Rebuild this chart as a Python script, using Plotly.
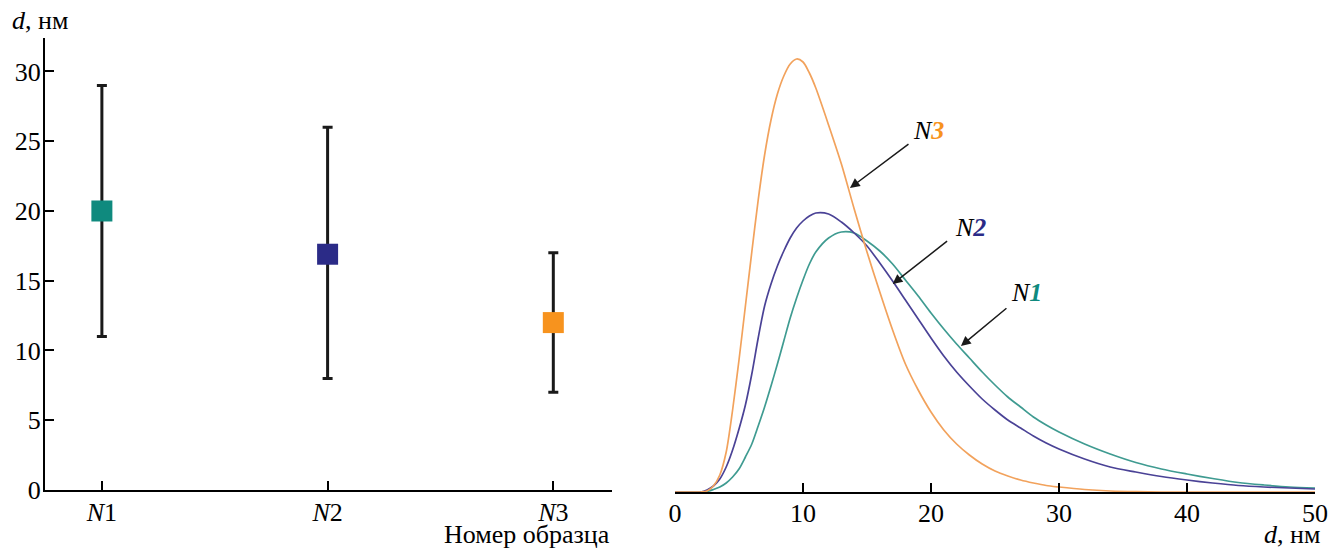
import plotly.graph_objects as go

# left panel: mean particle size per sample with spread
samples = [1, 2, 3]
sample_labels = ["<i>N</i>1", "<i>N</i>2", "<i>N</i>3"]
d_mean = [20.0, 16.9, 12.0]
d_upper = [29.0, 26.0, 17.0]
d_lower = [11.0, 8.0, 7.0]
sample_colors = ["#0f8a7e", "#2b2b87", "#f7931e"]

# right panel: size distributions (arb. units)
d_grid = [0, 2, 2.5, 3, 3.5, 4, 4.5, 5, 5.5, 6, 6.5, 7, 7.5, 8, 8.5, 9, 9.5, 10, 10.5, 11,
          12, 13, 14, 15, 16, 17, 18, 19, 20, 21, 22, 23, 24, 25, 26, 27, 28, 29, 30,
          32, 34, 36, 38, 40, 42, 44, 46, 48, 50]
dist_n1 = [0, 0, 0.5, 2.5, 5, 9, 15, 23, 35, 48, 66, 85, 106, 128, 151, 174, 194, 212, 228, 240,
           254, 260, 259, 251, 241, 228, 212, 196, 179, 163, 148, 134, 120, 107, 95, 85, 75, 67, 60,
           48, 38, 29.5, 23, 18, 13.5, 9.5, 7, 5, 4]
dist_n2 = [0, 0, 2, 6, 13, 25, 42, 63, 87, 118, 154, 186, 208, 226, 241, 254, 264, 271, 276, 279,
           278, 270, 259, 246, 229, 211, 192, 173, 154, 136, 120, 106, 93, 82, 72, 64, 56, 49, 43,
           33, 25, 20, 15.5, 12, 9, 6.5, 5, 4, 3]
dist_n3 = [0, 0, 1, 6, 17, 40, 82, 132, 186, 240, 292, 337, 372, 398, 416, 428, 433, 430, 419, 404,
           367, 328, 283, 240, 200, 162, 128, 102, 80, 62, 48, 37, 28, 21, 16, 12, 9, 6.5, 5,
           2.5, 1, 0.3, 0, 0, 0, 0, 0, 0, 0]
curve_colors = ["#3f9b91", "#4a4296", "#f2a25c"]

W, H = 1328, 550
FONT = dict(family="Liberation Serif", size=26, color="black")


def px_x(a, b):
    return [a / W, b / W]


def px_y(top, bottom):
    return [(H - bottom) / H, (H - top) / H]


fig = go.Figure()

for i in range(3):
    fig.add_trace(go.Scatter(
        x=[samples[i]], y=[d_mean[i]], mode="markers",
        marker=dict(symbol="square", size=21, color=sample_colors[i], line=dict(width=0)),
        error_y=dict(type="data", symmetric=False,
                     array=[d_upper[i] - d_mean[i]], arrayminus=[d_mean[i] - d_lower[i]],
                     color="#1a1a1a", thickness=3, width=5),
        xaxis="x", yaxis="y", showlegend=False,
    ))

for ys, c in zip([dist_n1, dist_n2, dist_n3], curve_colors):
    fig.add_trace(go.Scatter(
        x=d_grid, y=ys, mode="lines", line=dict(color=c, width=1.7, shape="spline", smoothing=0.8),
        xaxis="x2", yaxis="y2", showlegend=False,
    ))

axis_common = dict(showline=True, linecolor="black", linewidth=2, ticks="inside",
                   tickcolor="black", tickwidth=2, ticklen=9, showgrid=False, zeroline=False,
                   tickfont=FONT, automargin=False, ticklabeloverflow="allow")

fig.update_layout(
    width=W, height=H,
    margin=dict(l=0, r=0, t=0, b=0),
    paper_bgcolor="white", plot_bgcolor="white",
    font=FONT,
    xaxis=dict(domain=px_x(45, 612), range=[0.748, 3.26], tickvals=samples,
               ticktext=sample_labels, anchor="y", ticklabelstandoff=-2, **axis_common),
    yaxis=dict(domain=px_y(38, 490), range=[0, 32.4], tickvals=[0, 5, 10, 15, 20, 25, 30],
               anchor="x", ticklabelstandoff=-3, **axis_common),
    xaxis2=dict(domain=px_x(675, 1315), range=[0, 50], tickvals=[0, 10, 20, 30, 40, 50],
                anchor="y2", ticklabelstandoff=-3, **axis_common),
    yaxis2=dict(domain=px_y(50, 492), range=[0, 442], visible=False, anchor="x2",
                automargin=False),
)

fig.add_annotation(text="<i>d</i>, нм", xref="paper", yref="paper", x=10 / W, y=1 - 20 / H,
                   xanchor="left", yanchor="middle", showarrow=False, font=FONT)
fig.add_annotation(text="Номер образца", xref="paper", yref="paper", x=612 / W, y=1 - 534 / H,
                   xanchor="right", yanchor="middle", showarrow=False, font=FONT)
fig.add_annotation(text="<i>d</i>, нм", xref="paper", yref="paper", x=1322 / W, y=1 - 534 / H,
                   xanchor="right", yanchor="middle", showarrow=False, font=FONT)

# curve labels with arrows
labels = [
    ("1", sample_colors[0], 22.34, 146, 47, -39, 27.48, 200),
    ("2", sample_colors[1], 17.0, 208, 56, -44, 23.05, 265),
    ("3", sample_colors[2], 13.67, 304, 60, -45, 19.77, 362),
]
for num, col, tx, ty, ax, ay, lx, ly in labels:
    fig.add_annotation(x=tx, y=ty, xref="x2", yref="y2", text="", showarrow=True,
                       ax=ax, ay=ay, arrowhead=2, arrowsize=1.3, arrowwidth=1.5,
                       arrowcolor="#1a1a1a", standoff=0)
    fig.add_annotation(x=lx, y=ly, xref="x2", yref="y2", showarrow=False,
                       text=f"<i>N</i><b><i><span style='color:{col}'>{num}</span></i></b>",
                       font=FONT)

fig.write_html("out.html", config={"displayModeBar": False},
               post_script="document.body.style.margin='0px';")
